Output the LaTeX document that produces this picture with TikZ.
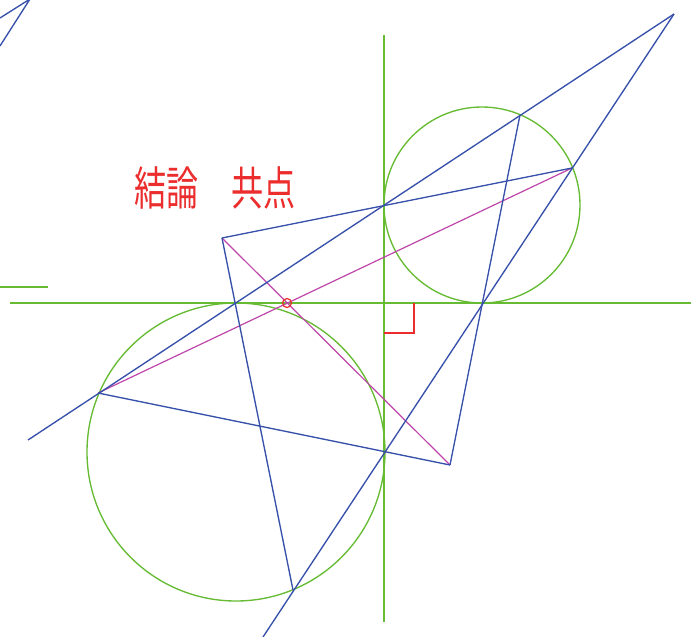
\documentclass[tikz,border=0pt]{standalone}
\usepackage{fontspec}
\newfontfamily\cjk{Noto Sans CJK JP}
\definecolor{lblue}{RGB}{55,80,170}
\definecolor{lgreen}{RGB}{102,187,51}
\definecolor{lmag}{RGB}{190,70,170}
\definecolor{lred}{RGB}{235,45,45}
\tikzset{
  bl/.style={draw=lblue,line width=1.35pt},
  gr/.style={draw=lgreen,line width=1.35pt},
  mg/.style={draw=lmag,line width=1.2pt},
  rd/.style={draw=lred,line width=1.4pt},
}
\begin{document}
\begin{tikzpicture}[x=1pt,y=-1pt]
\useasboundingbox (0,0) rectangle (697,637);
% points
\coordinate (A) at (222,238);
\coordinate (B) at (572,168);
\coordinate (C) at (450,465);
\coordinate (D) at (98,393);
\coordinate (E) at (520,115);
\coordinate (F) at (293,590);
\coordinate (T) at (674,14);
\coordinate (L1) at (28,440);
\coordinate (L2) at (263,637);
\coordinate (O1) at (482,205);
\coordinate (O2) at (236,452);
\coordinate (H1) at (10,303);
\coordinate (H2) at (691,303);
\coordinate (V1) at (384,35);
\coordinate (V2) at (384,622);
\coordinate (S1) at (0,287);
\coordinate (S2) at (48,287);
\coordinate (K) at (30,-1);
\coordinate (K1) at (0,18);
\coordinate (K2) at (0,46);
\coordinate (M) at (287,303);
\coordinate (R0) at (384,333);
\coordinate (R1) at (414,333);
\coordinate (R2) at (414,303);
% green
\draw[gr] (H1) -- (H2);
\draw[gr] (V1) -- (V2);
\draw[gr] (S1) -- (S2);
\draw[gr] (O1) circle[radius=98];
\draw[gr] (O2) circle[radius=149];
% magenta
\draw[mg] (D) -- (B);
\draw[mg] (A) -- (C);
% blue
\draw[bl] (L1) -- (T);
\draw[bl] (L2) -- (T);
\draw[bl] (A) -- (B);
\draw[bl] (A) -- (F);
\draw[bl] (E) -- (C);
\draw[bl] (D) -- (C);
\draw[bl] (K1) -- (K) -- (K2);
% red
\draw[rd] (R0) -- (R1) -- (R2);
\draw[draw=lred,line width=1.2pt] (M) circle[radius=4.5];
\node[text=lred,font=\cjk\fontsize{44}{44}\selectfont,xscale=0.73,yscale=1.05,inner sep=0] (txt) at (215,188) {結論　共点};
\end{tikzpicture}
\end{document}
